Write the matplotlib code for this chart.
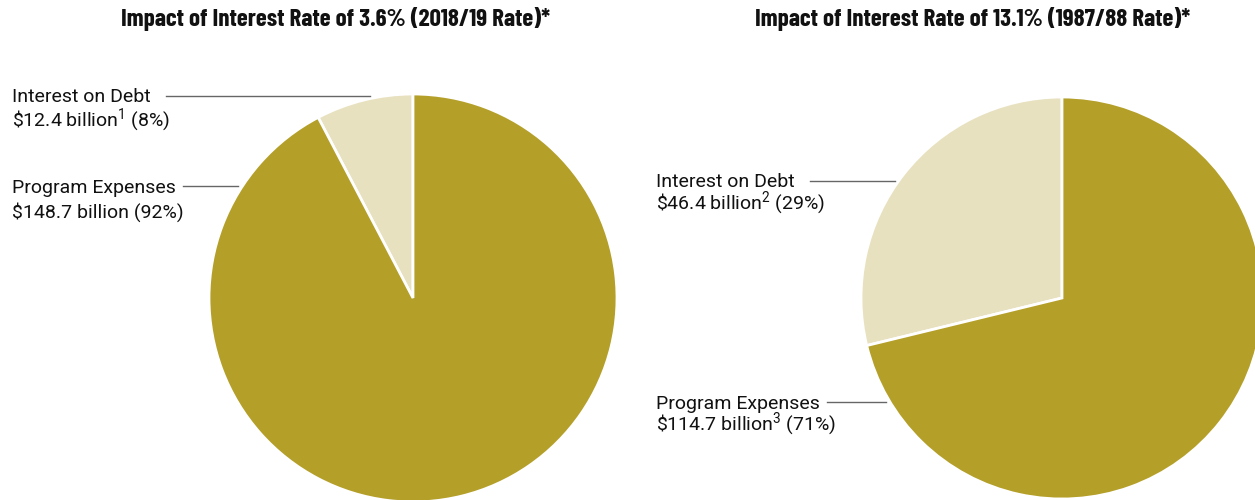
import matplotlib.pyplot as plt

W, H = 1255, 500

# valores em bilhões de dólares
rotulos = ["Interest on Debt", "Program Expenses"]
valores_2018 = [12.4, 148.7]
valores_1987 = [46.4, 114.7]
notas_2018 = ["1", ""]
notas_1987 = ["2", "3"]
titulos = [
    "Impact of Interest Rate of 3.6% (2018/19 Rate)*",
    "Impact of Interest Rate of 13.1% (1987/88 Rate)*",
]

cor_escura = "#B49F29"
cor_clara = "#E8E1BF"
cor_linha = "#666666"
fonte = ["Roboto", "Liberation Sans", "DejaVu Sans"]
fonte_titulo = ["Barlow Condensed", "Liberation Sans Narrow", "DejaVu Sans"]
tam_rotulo = 14

fig = plt.figure(figsize=(W / 100, H / 100), dpi=100)


def px(x, y):
    return x / W, 1 - y / H


def desenhar_pizza(cx, cy, r, valores):
    ax = fig.add_axes([(cx - r) / W, (H - cy - r) / H, 2 * r / W, 2 * r / H])
    ax.pie(valores, colors=[cor_clara, cor_escura], startangle=90,
           counterclock=True, radius=1,
           wedgeprops=dict(edgecolor="white", linewidth=2))
    ax.set_xlim(-1, 1)
    ax.set_ylim(-1, 1)
    ax.axis("off")


def rotulo(x, y1, y2, nome, valor, nota, total, linha):
    pct = round(valor / total * 100)
    sup = f"$\\mathregular{{^{nota}}}$" if nota else ""
    fig.text(*px(x, y1), nome, fontsize=tam_rotulo, family=fonte, va="baseline", color="#111111")
    fig.text(*px(x, y2), f"\\${valor} billion{sup} ({pct}%)", fontsize=tam_rotulo,
             family=fonte, va="baseline", color="#111111")
    x0, x1, yl = linha
    fig.add_artist(plt.Line2D([x0 / W, x1 / W], [1 - yl / H, 1 - yl / H],
                              color=cor_linha, linewidth=1))


# ── pizza da esquerda (2018/19) ──────────────────────────────────────────────
desenhar_pizza(413, 298, 204, valores_2018)
total = sum(valores_2018)
rotulo(12, 102.5, 125.5, rotulos[0], valores_2018[0], notas_2018[0], total, (166, 370, 95.5))
rotulo(12, 193, 218, rotulos[1], valores_2018[1], notas_2018[1], total, (183, 238, 186))

# ── pizza da direita (1987/88) ───────────────────────────────────────────────
desenhar_pizza(1062, 298, 201, valores_1987)
total = sum(valores_1987)
rotulo(656, 187, 209, rotulos[0], valores_1987[0], notas_1987[0], total, (810, 895, 181))
rotulo(656, 409, 430, rotulos[1], valores_1987[1], notas_1987[1], total, (827, 886, 402))

# ── títulos ──────────────────────────────────────────────────────────────────
fig.text(*px(336, 26), titulos[0], fontsize=18, family=fonte_titulo,
         fontweight="bold", ha="center", va="baseline", color="#111111")
fig.text(*px(973, 26), titulos[1], fontsize=18, family=fonte_titulo,
         fontweight="bold", ha="center", va="baseline", color="#111111")

plt.savefig("out.png", dpi=100)
plt.close()
